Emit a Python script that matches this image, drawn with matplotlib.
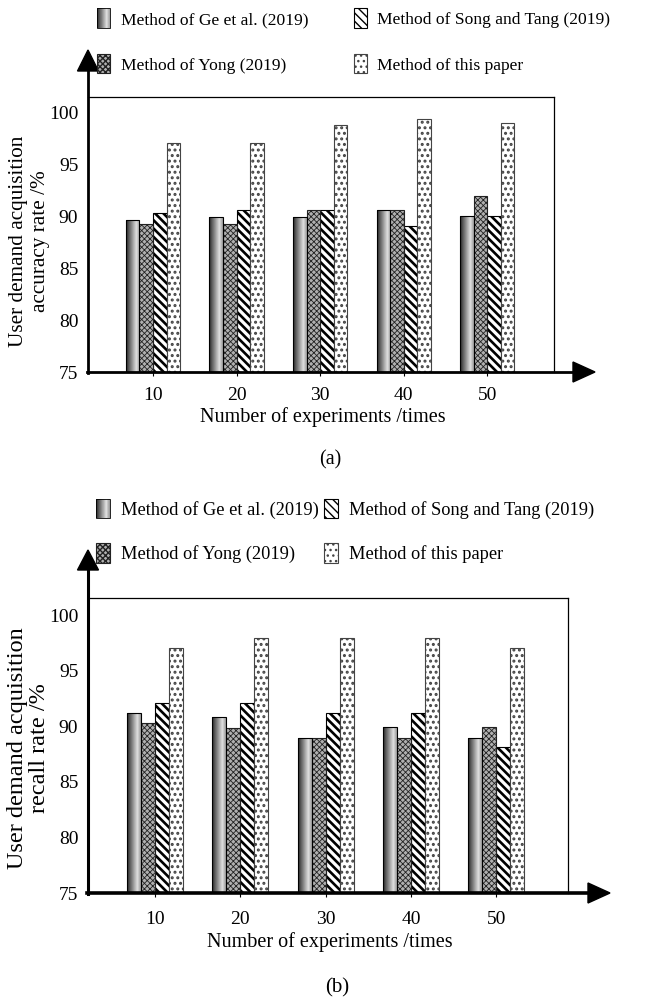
import numpy as np
import matplotlib
matplotlib.use("Agg")
import matplotlib.pyplot as plt
from matplotlib.patches import Polygon, Rectangle
from matplotlib.lines import Line2D
from matplotlib.legend_handler import HandlerBase

plt.rcParams['font.family'] = ['Liberation Serif', 'DejaVu Serif']

# ---------------- data ----------------
experiments = [10, 20, 30, 40, 50]
methods = ["Method of Ge et al. (2019)", "Method of Yong (2019)",
           "Method of Song and Tang (2019)", "Method of this paper"]

acc_ge = [89.7, 90.0, 90.0, 90.6, 90.1]
acc_yong = [89.3, 89.3, 90.6, 90.6, 92.0]
acc_song = [90.3, 90.6, 90.6, 89.1, 90.1]
acc_paper = [97.1, 97.1, 98.8, 99.4, 99.0]

rec_ge = [91.2, 90.8, 88.9, 89.9, 88.9]
rec_yong = [90.3, 89.8, 88.9, 88.9, 89.9]
rec_song = [92.1, 92.1, 91.2, 91.2, 88.1]
rec_paper = [97.0, 97.9, 97.9, 97.9, 97.0]

yticks = [75, 80, 85, 90, 95, 100]

W, H = 669, 1002
fig = plt.figure(figsize=(W / 100, H / 100), dpi=100)


def P(x, y):
    return (x / W, 1 - y / H)


def ax_from_px(l, t, r, b):
    return fig.add_axes([l / W, 1 - b / H, (r - l) / W, (b - t) / H])


GRAD_PROFILE = np.interp(np.linspace(0, 1, 64), [0, 0.1, 0.75, 1.0], [0.1, 0.25, 0.88, 0.6])


def set_hlw(p, lw):
    if hasattr(p, 'set_hatch_linewidth'):
        p.set_hatch_linewidth(lw)


class GradHandler(HandlerBase):
    def create_artists(self, legend, orig_handle, xdescent, ydescent, width, height, fontsize, trans):
        arts = []
        n = len(GRAD_PROFILE)
        for i, g in enumerate(GRAD_PROFILE):
            arts.append(Rectangle((-xdescent + i * width / n, -ydescent), width / n + 0.01, height,
                                  facecolor=str(g), edgecolor='none', transform=trans))
        arts.append(Rectangle((-xdescent, -ydescent), width, height, facecolor='none',
                              edgecolor='black', lw=0.6, transform=trans))
        return arts


def draw_panel(ax, ge, yong, song, paper, xlim, ylim, bw, ylabel, ylab_pos, ylab_fs, ylab_ls,
               xlab_pos, tickpad_x):
    x = np.array(experiments, dtype=float)
    offs = np.array([-1.5, -0.5, 0.5, 1.5]) * bw
    base = 75
    with plt.rc_context({'hatch.linewidth': 1.9}):
        c_song = ax.bar(x + offs[2], np.array(song) - base, bw, bottom=base, facecolor='white',
                        edgecolor='black', hatch='\\\\\\\\', lw=0.8, zorder=3)
    for p in c_song:
        set_hlw(p, 1.9)
    with plt.rc_context({'hatch.linewidth': 0.6}):
        c_yong = ax.bar(x + offs[1], np.array(yong) - base, bw, bottom=base, facecolor='#b0b0b0',
                        edgecolor='#222222', hatch='xxxxxx', lw=0.8, zorder=3)
    for p in c_yong:
        set_hlw(p, 0.6)
    with plt.rc_context({'hatch.linewidth': 1.4}):
        c_paper = ax.bar(x + offs[3], np.array(paper) - base, bw, bottom=base, facecolor='white',
                         edgecolor='#444444', hatch='...', lw=0.8, zorder=3)
    for p in c_paper:
        set_hlw(p, 1.4)
    c_ge = ax.bar(x + offs[0], np.array(ge) - base, bw, bottom=base, facecolor='none',
                  edgecolor='black', lw=0.8, zorder=4)
    grad = GRAD_PROFILE[None, :]
    for p in c_ge:
        x0, y0 = p.get_x(), p.get_y()
        im = ax.imshow(grad, extent=[x0, x0 + p.get_width(), y0, y0 + p.get_height()],
                       aspect='auto', cmap='gray', vmin=0, vmax=1, zorder=3,
                       interpolation='bilinear')
        im.set_clip_path(p)
    ax.set_xlim(*xlim)
    ax.set_ylim(*ylim)
    ax.set_yticks(yticks)
    ax.set_xticks(experiments)
    ax.tick_params(axis='y', length=0, pad=7, labelsize=14)
    ax.tick_params(axis='x', length=3, width=0.8, direction='out', pad=tickpad_x, labelsize=14)
    for s in ['left', 'bottom']:
        ax.spines[s].set_visible(False)
    for s in ['top', 'right']:
        ax.spines[s].set_linewidth(0.9)
    ax.set_ylabel(ylabel, fontsize=ylab_fs, linespacing=ylab_ls, ha='center', va='center')
    ax.yaxis.set_label_coords(*ylab_pos)
    ax.yaxis.label.set_va('center')
    ax.set_xlabel("Number of experiments /times", fontsize=14.5, va='center')
    ax.xaxis.set_label_coords(*xlab_pos)
    return c_ge, c_yong, c_song, c_paper


def axes_arrows(x0, ybase, ytip, xtip, hw_v, hl_v, hw_h, hl_h, lw_v, lw_h):
    fig.add_artist(Line2D(*zip(P(x0, ybase + 1), P(x0, ytip + hl_v)), transform=fig.transFigure,
                          color='black', lw=lw_v))
    fig.add_artist(Polygon([P(x0, ytip), P(x0 - hw_v, ytip + hl_v), P(x0 + hw_v, ytip + hl_v)],
                           closed=True, transform=fig.transFigure, color='black'))
    fig.add_artist(Line2D(*zip(P(x0 - 1, ybase), P(xtip - hl_h, ybase)), transform=fig.transFigure,
                          color='black', lw=lw_h))
    fig.add_artist(Polygon([P(xtip, ybase), P(xtip - hl_h, ybase - hw_h), P(xtip - hl_h, ybase + hw_h)],
                           closed=True, transform=fig.transFigure, color='black'))


def add_legend(conts, anchor_px, colsp, fs, lsp):
    c_ge, c_yong, c_song, c_paper = conts
    handles = [c_ge[0], c_yong[0], c_song[0], c_paper[0]]
    leg = fig.legend(handles, methods, loc='upper left', bbox_to_anchor=P(*anchor_px),
                     bbox_transform=fig.transFigure, ncol=2, frameon=False, fontsize=fs,
                     handlelength=0.75, handleheight=1.3, handletextpad=0.6,
                     columnspacing=colsp, labelspacing=lsp, borderpad=0, borderaxespad=0,
                     handler_map={c_ge[0]: GradHandler()})
    return leg


# ---------------- panel (a) ----------------
ax1 = ax_from_px(88, 97, 554, 372)
conts_a = draw_panel(ax1, acc_ge, acc_yong, acc_song, acc_paper,
                     xlim=(2.22, 58.0), ylim=(75, 101.54), bw=1.62,
                     ylabel="User demand acquisition\naccuracy rate /%",
                     ylab_pos=(-0.1255, 0.475), ylab_fs=15.3, ylab_ls=1.2,
                     xlab_pos=(0.504, -0.164), tickpad_x=8)
axes_arrows(88, 372, 50, 595, 10.5, 21, 10, 22, 2.0, 2.0)
add_legend(conts_a, (97, 8.5), 2.6, 12.6, 1.5)
fig.text(*P(330, 460), "(a)", ha='center', va='center', fontsize=14.5)

# ---------------- panel (b) ----------------
ax2 = ax_from_px(88, 598, 568, 893)
conts_b = draw_panel(ax2, rec_ge, rec_yong, rec_song, rec_paper,
                     xlim=(2.14, 58.4), ylim=(75, 101.53), bw=1.64,
                     ylabel="User demand acquisition\nrecall rate /%",
                     ylab_pos=(-0.124, 0.49), ylab_fs=17.5, ylab_ls=1.1,
                     xlab_pos=(0.504, -0.166), tickpad_x=10)
axes_arrows(88, 893, 550, 610, 10.5, 20, 10, 22, 2.2, 2.6)
add_legend(conts_b, (96, 498.5), 0.3, 13.2, 1.32)
fig.text(*P(337, 988), "(b)", ha='center', va='center', fontsize=15)

fig.savefig("out.png", dpi=100)
